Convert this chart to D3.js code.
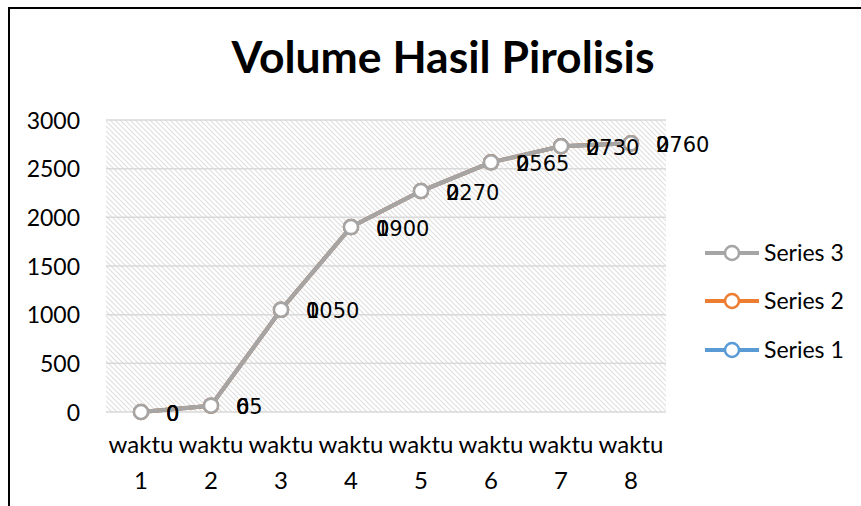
<!DOCTYPE html>
<html>
<head>
<meta charset="utf-8">
<script src="https://cdn.jsdelivr.net/npm/d3@7"></script>
<style>
  body { margin: 0; background: #fff; }
  svg { display: block; }
</style>
</head>
<body>
<script>
// chart data
var categories = ["waktu 1", "waktu 2", "waktu 3", "waktu 4", "waktu 5", "waktu 6", "waktu 7", "waktu 8"];
var series1 = [0, 0, 0, 0, 0, 0, 0, 0];
var series2 = [0, 0, 0, 0, 0, 0, 0, 0];
var series3 = [0, 65, 1050, 1900, 2270, 2565, 2730, 2760];
var yTicks = [0, 500, 1000, 1500, 2000, 2500, 3000];
var seriesNames = ["Series 1", "Series 2", "Series 3"];
var seriesColors = ["#5b9bd5", "#ed7d31", "#a5a5a5"];

var W = 861, H = 506;
var plot = { left: 106, right: 666, top: 120, bottom: 412 };

var svg = d3.select("body").append("svg").attr("width", W).attr("height", H);

// outer chart border (right and bottom edges fall outside the picture)
svg.append("path")
  .attr("d", "M9," + H + " L9,8 L" + W + ",8")
  .attr("fill", "none").attr("stroke", "#000").attr("stroke-width", 2);

// hatched plot background
var defs = svg.append("defs");
var pat = defs.append("pattern")
  .attr("id", "hatch").attr("patternUnits", "userSpaceOnUse")
  .attr("width", 5).attr("height", 5);
pat.append("rect").attr("width", 5).attr("height", 5).attr("fill", "#fff");
pat.append("path")
  .attr("d", "M0,0 L5,5 M-1,4 L1,6 M4,-1 L6,1")
  .attr("stroke", "#e0e0e0").attr("stroke-width", 1.2);

svg.append("rect")
  .attr("x", plot.left).attr("y", plot.top)
  .attr("width", plot.right - plot.left).attr("height", plot.bottom - plot.top)
  .attr("fill", "url(#hatch)");

var x = d3.scaleBand().domain(categories).range([plot.left, plot.right]);
var y = d3.scaleLinear().domain([0, 3000]).range([plot.bottom, plot.top]);
var cx = function(c) { return x(c) + x.bandwidth() / 2; };

// gridlines
svg.append("g").selectAll("line").data(yTicks).enter().append("line")
  .attr("x1", plot.left).attr("x2", plot.right)
  .attr("y1", function(d) { return y(d); }).attr("y2", function(d) { return y(d); })
  .attr("stroke", "#d9d9d9").attr("stroke-width", 1.5);

// y axis labels
var yAxis = svg.append("g")
  .attr("transform", "translate(" + (plot.left - 26) + ",0)")
  .call(d3.axisLeft(y).tickValues(yTicks).tickFormat(d3.format("d")).tickSize(0).tickPadding(0));
yAxis.select(".domain").remove();
yAxis.selectAll("text")
  .attr("font-family", "Lato, sans-serif").attr("font-size", 23).attr("fill", "#000")
  .attr("dy", "0.35em");

// x axis labels, split over two lines
var xAxis = svg.append("g")
  .attr("transform", "translate(0," + plot.bottom + ")")
  .call(d3.axisBottom(x).tickSize(0).tickPadding(0));
xAxis.select(".domain").remove();
xAxis.selectAll("text").each(function(d) {
  var t = d3.select(this).text("").attr("y", 0).attr("dy", null)
    .attr("font-family", "Lato, sans-serif").attr("font-size", 24).attr("fill", "#000");
  var parts = d.split(" ");
  t.append("tspan").attr("x", 0).attr("y", 41).text(parts[0]);
  t.append("tspan").attr("x", 0).attr("y", 77).text(parts[1]);
});

// stacked lines: series 3 drawn at its value, 2 and 1 stacked on top of it
var rows = categories.map(function(c, i) {
  return { cat: c, s1: series1[i], s2: series2[i], s3: series3[i] };
});
var stacked = d3.stack().keys(["s3", "s2", "s1"])(rows);
var byKey = {};
stacked.forEach(function(s) { byKey[s.key] = s; });
var order = [
  { key: "s1", name: seriesNames[0], color: seriesColors[0] },
  { key: "s2", name: seriesNames[1], color: seriesColors[1] },
  { key: "s3", name: seriesNames[2], color: seriesColors[2] }
];

var line = d3.line()
  .x(function(d) { return cx(d.data.cat); })
  .y(function(d) { return y(d[1]); });

order.forEach(function(s) {
  var data = byKey[s.key];
  var g = svg.append("g");
  g.append("path").datum(data)
    .attr("d", line).attr("fill", "none")
    .attr("stroke", s.color).attr("stroke-width", 4).attr("stroke-linejoin", "round");
  g.selectAll("circle").data(data).enter().append("circle")
    .attr("cx", function(d) { return cx(d.data.cat); })
    .attr("cy", function(d) { return y(d[1]); })
    .attr("r", 7)
    .attr("fill", "#fff").attr("stroke", s.color).attr("stroke-width", 2.5);
});

// data labels
order.forEach(function(s) {
  svg.append("g").selectAll("text").data(byKey[s.key]).enter().append("text")
    .attr("x", function(d) { return cx(d.data.cat) + 25; })
    .attr("y", function(d) { return y(d[1]) + 1; })
    .attr("dy", "0.36em")
    .attr("font-family", "'DejaVu Sans', sans-serif").attr("font-size", 21).attr("fill", "#000")
    .text(function(d) { return d.data[s.key]; });
});

// legend, series 3 first
var legendY = [253, 301, 350];
var legend = svg.append("g").selectAll("g").data(order.slice().reverse()).enter().append("g")
  .attr("transform", function(d, i) { return "translate(0," + legendY[i] + ")"; });
legend.append("line").attr("x1", 705).attr("x2", 759).attr("y1", 0).attr("y2", 0)
  .attr("stroke", function(d) { return d.color; }).attr("stroke-width", 4);
legend.append("circle").attr("cx", 732).attr("cy", 0).attr("r", 7)
  .attr("fill", "#fff").attr("stroke", function(d) { return d.color; }).attr("stroke-width", 2.5);
legend.append("text").attr("x", 764).attr("y", 0).attr("dy", "0.35em")
  .attr("font-family", "Lato, sans-serif").attr("font-size", 23).attr("fill", "#000")
  .text(function(d) { return d.name; });

// title
var title = svg.append("text")
  .attr("x", 443).attr("y", 73).attr("text-anchor", "middle")
  .attr("font-family", "Lato, sans-serif").attr("font-weight", "bold")
  .attr("font-size", 40).attr("fill", "#000")
  .text("Volume Hasil Pirolisis");
var tw = title.node().getComputedTextLength();
title.attr("font-size", 40 * 423 / tw);
</script>
</body>
</html>
